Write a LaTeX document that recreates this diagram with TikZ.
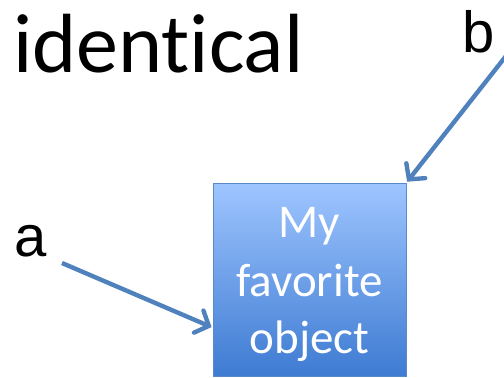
\documentclass[tikz,border=0pt]{standalone}
\usepackage{fontspec}
\setmainfont[Ligatures=NoCommon]{Carlito}
\newfontfamily\arialfont{Liberation Sans}
\usetikzlibrary{arrows.meta,calc}
\definecolor{linkblue}{HTML}{4F81BD}
\definecolor{boxtop}{HTML}{9EC5FF}
\definecolor{boxbot}{HTML}{3E7BD2}
\definecolor{boxedge}{HTML}{5A8AC6}
\tikzset{
  label text/.style={inner sep=0pt, anchor=base west},
  obj text/.style={inner sep=0pt, anchor=base, text=white,
    font=\fontsize{47}{47}\selectfont},
  pointer/.style={draw=linkblue, line width=4.4pt,
    -{Straight Barb[length=11pt,width=24pt,line cap=round]}, shorten >=1pt},
  objbox/.style={minimum width=193pt, minimum height=193pt, inner sep=0pt,
    draw=boxedge, line width=1pt, top color=boxtop, bottom color=boxbot},
}
\begin{document}
\begin{tikzpicture}[x=1pt,y=-1pt]
  \useasboundingbox (0,0) rectangle (504,378);
  % title and variable names
  \node[label text, font=\fontsize{84}{84}\selectfont] (title) at (13,72) {identical};
  \node[label text, font=\arialfont\fontsize{58}{58}\selectfont] (b) at (462,52) {b};
  \node[label text, font=\arialfont\fontsize{58}{58}\selectfont] (a) at (14,256) {a};
  % the shared object
  \node[objbox] (obj) at (309.5,279.5) {};
  \node[obj text] (line1) at (309.5,237) {My};
  \node[obj text] (line2) at (309.5,296) {favorite};
  \node[obj text] (line3) at (309.5,353) {object};
  % references pointing at the object
  \coordinate (astart) at (62,263);
  \coordinate (bstart) at (506,56);
  \draw[pointer] (astart) -- ($(obj.west)+(0,48)$);
  \draw[pointer] (bstart) -- (obj.north east);
\end{tikzpicture}
\end{document}
